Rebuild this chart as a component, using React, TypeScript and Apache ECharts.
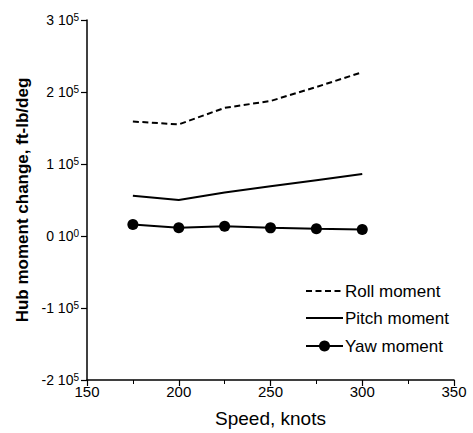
import React, { useEffect, useRef } from "react";
import * as echarts from "echarts";

const speeds = [175, 200, 225, 250, 275, 300];
const rollMoment = [159000, 155000, 178000, 187500, 207000, 227500];
const pitchMoment = [56000, 50000, 60500, 69000, 77500, 86000];
const yawMoment = [16000, 11500, 13600, 11300, 10000, 9000];
const seriesNames = ["Roll moment", "Pitch moment", "Yaw moment"];
const yTickLabels: Record<string, [string, string]> = {
  "-200000": ["-2 10", "5"],
  "-100000": ["-1 10", "5"],
  "0": ["0 10", "0"],
  "100000": ["1 10", "5"],
  "200000": ["2 10", "5"],
  "300000": ["3 10", "5"],
};

const FONT = "'Liberation Sans', Arial, sans-serif";

export default function App() {
  const ref = useRef<HTMLDivElement>(null);
  useEffect(() => {
    if (!ref.current) return;
    const chart = echarts.init(ref.current, undefined, { renderer: "svg" });
    const mk = (arr: number[]) => speeds.map((s, i) => [s, arr[i]]);
    const lx0 = 306, lx1 = 343, ly = [291, 318, 346];
    const dashes: any[] = [[6, 3.5], "solid", "solid"];
    const legendEls: any[] = [];
    seriesNames.forEach((n, i) => {
      legendEls.push({
        type: "line",
        shape: { x1: lx0, y1: ly[i], x2: lx1, y2: ly[i] },
        style: { stroke: "#000", lineWidth: 2, lineDash: dashes[i] === "solid" ? null : dashes[i] },
      });
      if (i === 2) {
        legendEls.push({ type: "circle", shape: { cx: (lx0 + lx1) / 2, cy: ly[i], r: 5.5 }, style: { fill: "#000" } });
      }
      legendEls.push({
        type: "text",
        x: lx1 + 2,
        y: ly[i],
        style: { text: n, font: "17px " + FONT, fill: "#000", textVerticalAlign: "middle", textAlign: "left" },
      });
    });
    chart.setOption({
      animation: false,
      backgroundColor: "#fff",
      textStyle: { fontFamily: FONT, color: "#000" },
      grid: { left: 87, right: 19, top: 20, bottom: 46 },
      graphic: legendEls,
      xAxis: {
        type: "value",
        min: 150,
        max: 350,
        interval: 50,
        name: "Speed, knots",
        nameLocation: "middle",
        nameGap: 29,
        nameTextStyle: { fontFamily: FONT, fontSize: 19, color: "#000" },
        axisLine: { show: true, onZero: false, lineStyle: { color: "#000", width: 1.5 } },
        axisTick: { show: true, inside: false, length: 6, lineStyle: { color: "#000", width: 1.2 } },
        minorTick: { show: true, splitNumber: 2, length: 4, lineStyle: { color: "#000", width: 1 } },
        axisLabel: { fontFamily: FONT, fontSize: 15, color: "#000", margin: 4 },
        splitLine: { show: false },
      },
      yAxis: {
        type: "value",
        min: -200000,
        max: 300000,
        interval: 100000,
        name: "Hub moment change, ft-lb/deg",
        nameLocation: "middle",
        nameGap: 53,
        nameTextStyle: { fontFamily: FONT, fontSize: 17, fontWeight: "bold", color: "#000" },
        axisLine: { show: true, onZero: false, lineStyle: { color: "#000", width: 1.5 } },
        axisTick: { show: true, inside: false, length: 6, lineStyle: { color: "#000", width: 1.2 } },
        axisLabel: {
          margin: 8,
          formatter: (v: number) => {
            const t = yTickLabels[String(Math.round(v))];
            if (!t) return "";
            return "{b|" + t[0] + "}{s|" + t[1] + "}";
          },
          rich: {
            b: { fontFamily: FONT, fontSize: 14, color: "#000", lineHeight: 16 },
            s: { fontFamily: FONT, fontSize: 10, color: "#000", lineHeight: 10, verticalAlign: "top", padding: [0, 0, 8, 0] },
          },
        },
        splitLine: { show: false },
      },
      series: [
        {
          name: seriesNames[0],
          type: "line",
          data: mk(rollMoment),
          symbol: "none",
          lineStyle: { color: "#000", width: 2, type: [6, 3.5] },
          itemStyle: { color: "#000" },
        },
        {
          name: seriesNames[1],
          type: "line",
          data: mk(pitchMoment),
          symbol: "none",
          lineStyle: { color: "#000", width: 2 },
          itemStyle: { color: "#000" },
        },
        {
          name: seriesNames[2],
          type: "line",
          data: mk(yawMoment),
          symbol: "circle",
          symbolSize: 11,
          lineStyle: { color: "#000", width: 2 },
          itemStyle: { color: "#000" },
        },
      ],
    });
    return () => chart.dispose();
  }, []);
  return <div ref={ref} style={{ width: 473, height: 433, position: "absolute", left: 0, top: 0 }} />;
}
